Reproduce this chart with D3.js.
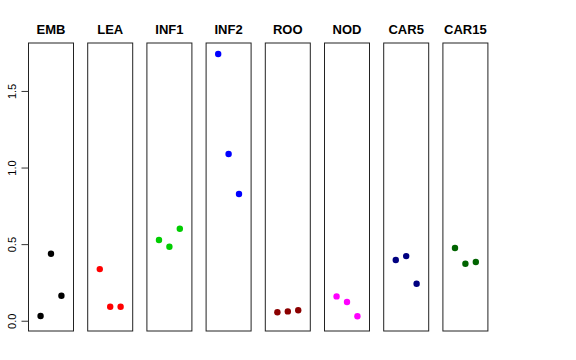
<!DOCTYPE html>
<html><head><meta charset="utf-8">
<script src="https://cdn.jsdelivr.net/npm/d3@7"></script>
<style>body{margin:0;background:#fff}svg{display:block}</style>
</head><body>
<script>
const categories = ["EMB","LEA","INF1","INF2","ROO","NOD","CAR5","CAR15"];
const colors = ["#000000","#FF0000","#00CD00","#0000FF","#8B0000","#FF00FF","#000080","#006400"];
const EMB = [0.031, 0.437, 0.163];
const LEA = [0.337, 0.091, 0.091];
const INF1 = [0.527, 0.483, 0.600];
const INF2 = [1.741, 1.088, 0.827];
const ROO = [0.055, 0.061, 0.068];
const NOD = [0.159, 0.122, 0.029];
const CAR5 = [0.396, 0.422, 0.241];
const CAR15 = [0.475, 0.372, 0.383];
const series = [EMB, LEA, INF1, INF2, ROO, NOD, CAR5, CAR15];
const yTicks = [0.0, 0.5, 1.0, 1.5];
const yTickLabels = ["0.0","0.5","1.0","1.5"];

(function () {
const W = 576, H = 360;
const svg = d3.select("body").append("svg").attr("width", W).attr("height", H);
const pTop = 43, pBottom = 331, panelW = 45, firstLeft = 28.5, step = 59.2;

const y = d3.scaleLinear().domain([-0.067, 1.813]).range([pBottom, pTop]);

categories.forEach((cat, i) => {
  const left = firstLeft + i * step;
  const x = d3.scaleLinear().domain([-0.16, 4.16]).range([left, left + panelW]);
  const g = svg.append("g");
  g.append("rect").attr("x", left).attr("y", pTop).attr("width", panelW).attr("height", pBottom - pTop)
    .attr("fill", "none").attr("stroke", "#222").attr("stroke-width", 1);
  g.append("text").attr("x", left + panelW / 2).attr("y", 34).attr("text-anchor", "middle")
    .attr("font-family", "Liberation Sans, Arial, sans-serif").attr("font-weight", "bold").attr("font-size", 13)
    .text(cat);
  g.selectAll("circle").data(series[i]).enter().append("circle")
    .attr("cx", (d, j) => x(j + 1)).attr("cy", d => y(d)).attr("r", 3.2).attr("fill", colors[i]);
});

const axis = d3.axisLeft(y).tickValues(yTicks).tickFormat((d, i) => yTickLabels[i]).tickSize(7).tickPadding(0);
const ag = svg.append("g").attr("transform", `translate(${firstLeft},0)`).call(axis);
ag.select(".domain").attr("stroke", "none");
ag.selectAll(".tick line").attr("stroke", "#333");
ag.selectAll(".tick text")
  .attr("font-family", "Liberation Sans, Arial, sans-serif").attr("font-size", 11).attr("fill", "#000")
  .attr("text-anchor", "middle").attr("x", null).attr("dy", null)
  .attr("transform", "translate(-13,0) rotate(-90)");
})();
</script>
</body></html>
